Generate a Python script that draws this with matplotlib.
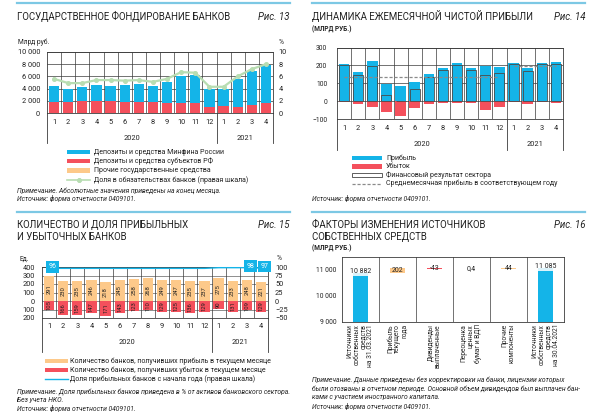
import matplotlib
matplotlib.use('Agg')
import matplotlib.pyplot as plt
from matplotlib.patches import Rectangle
from matplotlib.lines import Line2D
import numpy as np

plt.rcParams['font.family'] = ['Roboto', 'DejaVu Sans']

W, H = 590, 413

# ---------------- DATA ----------------
months = ['1', '2', '3', '4', '5', '6', '7', '8', '9', '10', '11', '12', '1', '2', '3', '4']
years = ['2020', '2021']

# Fig. 13: state funding (bn RUB), totals
f13_total = [4430, 3880, 4260, 4590, 4430, 4540, 4700, 4480, 5030, 6120, 6290, 3930, 3930, 5570, 6940, 7820]
f13_regions = [1850, 1800, 1910, 1970, 1910, 1750, 1800, 1750, 1590, 1640, 1590, 930, 1100, 1040, 1260, 1590]
f13_other = [20, 20, 20, 20, 20, 20, 20, 20, 20, 20, 20, 20, 20, 20, 20, 20]
f13_share = [5.6, 4.9, 4.9, 5.4, 5.4, 5.3, 5.4, 5.1, 5.6, 6.7, 6.6, 4.3, 4.3, 6.0, 7.2, 8.0]

# Fig. 14: monthly net profit (bn RUB)
f14_profit = [207, 161, 227, 96, 87, 107, 151, 183, 211, 183, 194, 192, 211, 187, 212, 218]
f14_loss = [-7, -15, -32, -60, -85, -38, -15, -11, -10, -11, -47, -32, -6, -18, -7, -9]
f14_avg = [135, 195]

# Fig. 15: number of profitable / loss-making banks
f15_profit_n = [291, 230, 235, 246, 218, 245, 258, 268, 249, 247, 235, 237, 275, 233, 248, 221]
f15_loss_n = [105, 166, 159, 147, 171, 143, 123, 110, 129, 125, 136, 129, 90, 131, 109, 129]
f15_share = [96, 96, 96, 96, 96, 96, 96, 96, 96, 96, 96, 96, 98, 98, 98, 97]
f15_share_labels = {0: '96', 14: '98', 15: '97'}

# Fig. 16: capital change factors (bn RUB)
f16_cats = ['Источники\nсобственных\nсредств\nна 31.03.2021', 'Прибыль\nтекущего\nгода',
            'Дивиденды\nвыплаченные', 'Переоценка\nценных\nбумаг и ВДП', 'Прочие\nкомпоненты',
            'Источники\nсобственных\nсредств\nна 30.04.2021']
f16_start = 10882
f16_deltas = [202, -43, 0.4, 44]
f16_end = 11085
f16_labels = ['10 882', '202', '-43', '0,4', '44', '11 085']

# ---------------- STYLE ----------------
BLUE = '#14B4E8'
RED = '#F4505C'
ORANGE = '#FDC98A'
GREEN = '#B8DDB2'
TOPLINE = '#7CC8E4'
GRID = '#3a3a3a'
TXT = '#222222'
NOTE = 4.9

fig = plt.figure(figsize=(W / 100, H / 100), dpi=100)


def add_ax(x0, y0, x1, y1):
    return fig.add_axes([x0 / W, 1 - y1 / H, (x1 - x0) / W, (y1 - y0) / H])


def ftext(x, y, s, **kw):
    kw.setdefault('color', TXT)
    return fig.text(x / W, 1 - y / H, s, **kw)


def fline(x0, y0, x1, y1, **kw):
    fig.add_artist(Line2D([x0 / W, x1 / W], [1 - y0 / H, 1 - y1 / H], transform=fig.transFigure, **kw))


def frect(x0, y0, x1, y1, **kw):
    fig.add_artist(Rectangle((x0 / W, 1 - y1 / H), (x1 - x0) / W, (y1 - y0) / H,
                             transform=fig.transFigure, **kw))


def month_axis(x0, x1, ybot, ymonth, yyear, yend, n=16, split=12):
    cw = (x1 - x0) / n
    for i, m in enumerate(months):
        ftext(x0 + cw * (i + 0.5), ymonth, m, ha='center', va='center', fontsize=5.3)
    ftext(x0 + cw * split / 2, yyear, years[0], ha='center', va='center', fontsize=5.3)
    ftext(x0 + cw * (split + (n - split) / 2), yyear, years[1], ha='center', va='center', fontsize=5.3)
    for xx in [x0, x0 + cw * split, x1]:
        fline(xx, ybot, xx, yend, color=GRID, lw=0.6)


def style_ax(ax, n):
    ax.set_xlim(-0.5, n - 0.5)
    ax.set_xticks([])
    for s in ax.spines.values():
        s.set_color(GRID)
        s.set_linewidth(0.6)
    for b in np.arange(0.5, n - 0.5, 1):
        ax.axvline(b, color=GRID, lw=0.5, zorder=0.5)
    ax.set_axisbelow(True)


def header(x0, x1, ytop, lines, fig_label, ysub=None, sub=None):
    fline(x0, ytop, x1, ytop, color=TOPLINE, lw=1.6)
    for yy, t in lines:
        ftext(x0, yy, t, ha='left', va='center', fontsize=6.9)
    ftext(x1, lines[0][0], fig_label, ha='right', va='center', fontsize=6.9, style='italic')
    if sub:
        ftext(x0, ysub, sub, ha='left', va='center', fontsize=4.7, fontweight='bold')


x = np.arange(16)

# =============== Fig 13 ===============
header(17, 290, 3, [(16.5, 'ГОСУДАРСТВЕННОЕ ФОНДИРОВАНИЕ БАНКОВ')], 'Рис. 13')
ax13 = add_ax(47, 52, 273, 113)
style_ax(ax13, 16)
ax13.set_ylim(0, 10000)
ax13.set_yticks(range(0, 10001, 2000))
ax13.set_yticklabels(['0', '2 000', '4 000', '6 000', '8 000', '10 000'])
ax13.tick_params(axis='y', length=0, labelsize=5.3, pad=5, labelcolor=TXT)
ax13.yaxis.grid(True, color=GRID, lw=0.5)
f13_minfin = [t - r for t, r in zip(f13_total, f13_regions)]
ax13.bar(x, f13_regions, width=0.72, color=RED, zorder=2)
ax13.bar(x, f13_minfin, width=0.72, bottom=f13_regions, color=BLUE, zorder=2)
ax13.bar(x, f13_other, width=0.72, bottom=f13_total, color=ORANGE, zorder=2)
ax13r = ax13.twinx()
ax13r.set_ylim(0, 10)
ax13r.set_yticks(range(0, 11, 2))
ax13r.tick_params(axis='y', length=0, labelsize=5.3, pad=4, labelcolor=TXT)
for s in ax13r.spines.values():
    s.set_visible(False)
ax13r.plot(x, f13_share, color=GREEN, lw=1.6, marker='o', ms=2.6, mfc=GREEN, mec=GREEN, zorder=3)
ftext(18, 42.5, 'Млрд руб.', ha='left', va='center', fontsize=4.8)
ftext(281, 42.5, '%', ha='center', va='center', fontsize=4.8)
month_axis(47, 273, 113, 123, 138, 143)

leg13 = [('patch', BLUE, 'Депозиты и средства Минфина России'),
         ('patch', RED, 'Депозиты и средства субъектов РФ'),
         ('patch', ORANGE, 'Прочие государственные средства'),
         ('line', GREEN, 'Доля в обязательствах банков (правая шкала)')]
for k, (kind, c, t) in enumerate(leg13):
    yy = 152 + k * 9.2
    if kind == 'patch':
        frect(67, yy - 2.2, 90, yy + 2.2, color=c, lw=0)
    else:
        fline(67, yy, 90, yy, color=c, lw=1.2)
        fig.add_artist(Line2D([78.5 / W, 78.5 / W], [1 - yy / H, 1 - yy / H], marker='o', ms=2.4,
                              color=c, lw=0, transform=fig.transFigure))
    ftext(94, yy, t, ha='left', va='center', fontsize=5.0)
ftext(17, 191, 'Примечание. Абсолютные значения приведены на конец месяца.', ha='left', va='center',
      fontsize=NOTE, style='italic')
ftext(17, 199, 'Источник: форма отчетности 0409101.', ha='left', va='center', fontsize=NOTE, style='italic')

# =============== Fig 14 ===============
header(312, 585, 3, [(16.5, 'ДИНАМИКА ЕЖЕМЕСЯЧНОЙ ЧИСТОЙ ПРИБЫЛИ')], 'Рис. 14', 29, '(МЛРД РУБ.)')
ax14 = add_ax(337, 47.5, 563, 119)
style_ax(ax14, 16)
ax14.set_ylim(-100, 300)
ax14.set_yticks([-100, 0, 100, 200, 300])
ax14.tick_params(axis='y', length=0, labelsize=4.9, pad=7, labelcolor=TXT)
ax14.yaxis.grid(True, color=GRID, lw=0.5)
ax14.bar(x, f14_profit, width=0.74, color=BLUE, zorder=2)
ax14.bar(x, f14_loss, width=0.74, color=RED, zorder=2)
f14_result = [p + l for p, l in zip(f14_profit, f14_loss)]
ax14.bar(x, f14_result, width=0.7, facecolor='none', edgecolor='#4a4a4a', lw=0.6, zorder=3)
ax14.plot([0, 11], [f14_avg[0]] * 2, ls=(0, (2.5, 1.5)), color='#8a8a8a', lw=0.9, zorder=4)
ax14.plot([12, 15], [f14_avg[1]] * 2, ls=(0, (2.5, 1.5)), color='#8a8a8a', lw=0.9, zorder=4)
month_axis(337, 563, 119, 128, 145, 150)

leg14 = [('patch', BLUE, 'Прибыль'), ('patch', RED, 'Убыток'),
         ('box', None, 'Финансовый результат сектора'),
         ('dash', '#8a8a8a', 'Среднемесячная прибыль в соответствующем году')]
for k, (kind, c, t) in enumerate(leg14):
    yy = 158 + k * 8.5
    if kind == 'patch':
        frect(352, yy - 2.2, 382, yy + 2.2, color=c, lw=0)
    elif kind == 'box':
        frect(352, yy - 2.2, 382, yy + 2.2, facecolor='white', edgecolor='#444', lw=0.6)
    else:
        fline(352, yy, 382, yy, color=c, lw=0.9, ls=(0, (2.5, 1.5)))
    ftext(386, yy, t, ha='left', va='center', fontsize=5.0)
ftext(312, 199, 'Источник: форма отчетности 0409101.', ha='left', va='center', fontsize=NOTE, style='italic')

# =============== Fig 15 ===============
header(17, 290, 212, [(225, 'КОЛИЧЕСТВО И ДОЛЯ ПРИБЫЛЬНЫХ'), (237, 'И УБЫТОЧНЫХ БАНКОВ')], 'Рис. 15')
ax15 = add_ax(42, 267, 268, 318)
style_ax(ax15, 16)
ax15.set_ylim(-200, 400)
ax15.set_yticks([-200, -100, 0, 100, 200, 300, 400])
ax15.set_yticklabels(['200', '100', '0', '100', '200', '300', '400'])
ax15.tick_params(axis='y', length=0, labelsize=5.3, pad=5, labelcolor=TXT)
ax15.yaxis.grid(True, color=GRID, lw=0.4)
ax15.bar(x, f15_profit_n, width=0.72, color=ORANGE, zorder=2)
ax15.bar(x, [-v for v in f15_loss_n], width=0.72, color=RED, zorder=2)
for i in range(16):
    ax15.text(i, f15_profit_n[i] / 2, str(f15_profit_n[i]), rotation=90, ha='center', va='center',
              fontsize=4.2, color=TXT, zorder=4)
    ax15.text(i, -f15_loss_n[i] / 2, str(f15_loss_n[i]), rotation=90, ha='center', va='center',
              fontsize=4.2, color=TXT, zorder=4)
ax15r = ax15.twinx()
ax15r.set_ylim(-50, 100)
ax15r.set_yticks([-50, -25, 0, 25, 50, 75, 100])
ax15r.tick_params(axis='y', length=0, labelsize=5.3, pad=5, labelcolor=TXT)
for s in ax15r.spines.values():
    s.set_visible(False)
ax15r.plot(x, f15_share, color=BLUE, lw=1.0, zorder=3, clip_on=False)
for i, lab in f15_share_labels.items():
    ax15r.text(i + 0.25, f15_share[i] + 4.5, lab, ha='center', va='center', fontsize=5, color='white',
               bbox=dict(boxstyle='square,pad=0.35', fc=BLUE, ec='none'), clip_on=False, zorder=5)
ftext(20, 259, 'Ед.', ha='left', va='center', fontsize=4.8)
ftext(277, 259, '%', ha='left', va='center', fontsize=4.8)
month_axis(42, 268, 318, 327, 343, 352)

leg15 = [('patch', ORANGE, 'Количество банков, получивших прибыль в текущем месяце'),
         ('patch', RED, 'Количество банков, получивших убыток в текущем месяце'),
         ('line', BLUE, 'Доля прибыльных банков с начала года (правая шкала)')]
for k, (kind, c, t) in enumerate(leg15):
    yy = 361 + k * 8.8
    if kind == 'patch':
        frect(45, yy - 2.2, 68, yy + 2.2, color=c, lw=0)
    else:
        fline(45, yy, 68, yy, color=c, lw=1.0)
    ftext(70, yy, t, ha='left', va='center', fontsize=5.0)
for yy, t in [(392, 'Примечание. Доля прибыльных банков приведена в % от активов банковского сектора.'),
              (400, 'Без учета НКО.'), (408, 'Источник: форма отчетности 0409101.')]:
    ftext(17, yy, t, ha='left', va='center', fontsize=NOTE, style='italic')

# =============== Fig 16 ===============
header(312, 585, 212, [(225, 'ФАКТОРЫ ИЗМЕНЕНИЯ ИСТОЧНИКОВ'), (237, 'СОБСТВЕННЫХ СРЕДСТВ')], 'Рис. 16',
       248.5, '(МЛРД РУБ.)')
ax16 = add_ax(342, 257, 564, 322)
style_ax(ax16, 6)
ax16.set_ylim(9000, 11500)
ax16.set_yticks([9000, 10000, 11000])
ax16.set_yticklabels(['9 000', '10 000', '11 000'])
ax16.tick_params(axis='y', length=0, labelsize=4.9, pad=4, labelcolor=TXT)
bottoms, heights, colors = [0], [f16_start], [BLUE]
cum = f16_start
for d in f16_deltas:
    bottoms.append(cum)
    heights.append(d)
    colors.append(ORANGE if d >= 0 else RED)
    cum += d
bottoms.append(0)
heights.append(f16_end)
colors.append(BLUE)
ax16.bar(range(6), heights, bottom=bottoms, width=0.4, color=colors, zorder=2)
for i in range(6):
    if i in (0, 5):
        ax16.text(i, heights[i] + 60, f16_labels[i], ha='center', va='center', fontsize=5.0, color=TXT,
                  zorder=4, bbox=dict(boxstyle='square,pad=0.15', fc='white', ec='none', alpha=0.85))
    else:
        mid = bottoms[i] + heights[i] / 2
        ax16.text(i, mid, f16_labels[i], ha='center', va='center', fontsize=5.0, color=TXT, zorder=4)
for i, c in enumerate(f16_cats):
    cx = 342 + (564 - 342) / 6 * (i + 0.5)
    ftext(cx, 324, c, rotation=90, ha='center', va='top', multialignment='right', fontsize=4.8,
          linespacing=1.0)
for yy, t in [(380, 'Примечание. Данные приведены без корректировки на банки, лицензии которых'),
              (388.5, 'были отозваны в отчетном периоде. Основной объем дивидендов был выплачен бан-'),
              (397, 'ками с участием иностранного капитала.'),
              (406, 'Источник: форма отчетности 0409101.')]:
    ftext(312, yy, t, ha='left', va='center', fontsize=NOTE, style='italic')

fig.savefig('out.png', dpi=100, facecolor='white')
